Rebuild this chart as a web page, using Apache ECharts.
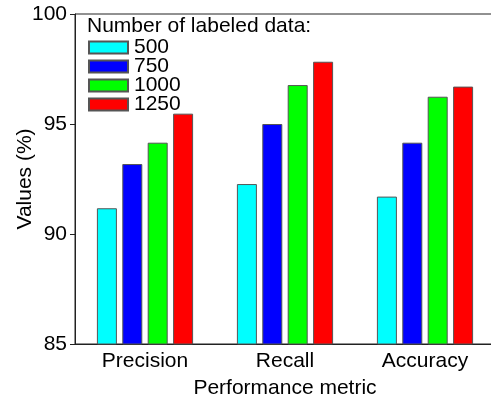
<!DOCTYPE html>
<html><head><meta charset="utf-8">
<script src="https://cdn.jsdelivr.net/npm/echarts@6/dist/echarts.min.js"></script>
<style>html,body{margin:0;padding:0;background:#fff}#c{width:491px;height:403px}</style>
</head><body><div id="c"></div>
<script>
const categories = ['Precision', 'Recall', 'Accuracy'];
const seriesNames = ['500', '750', '1000', '1250'];
const s500 = [91.17, 92.27, 91.70];
const s750 = [93.18, 95.00, 94.15];
const s1000 = [94.15, 96.77, 96.24];
const s1250 = [95.47, 97.83, 96.70];
const colors = ['#00FFFF', '#0000FF', '#00FF00', '#FF0000'];
const yTicks = [85, 90, 95, 100];

const allData = [s500, s750, s1000, s1250];
const font = 'Liberation Sans, Arial, sans-serif';
const chart = echarts.init(document.getElementById('c'));
chart.setOption({
  animation: false,
  grid: { left: 75, width: 420, top: 14, height: 330, show: true, borderColor: '#222', borderWidth: 1, containLabel: false, outerBoundsMode: 'none' },
  title: { text: 'Number of labeled data:', left: 87, top: 16, padding: 0, textStyle: { fontFamily: font, fontSize: 21, fontWeight: 'normal', color: '#000' } },
  legend: {
    orient: 'vertical', left: 88, top: 37, itemWidth: 39, itemHeight: 12, itemGap: -2, padding: 0,
    icon: 'rect',
    textStyle: { fontFamily: font, fontSize: 21, color: '#000', padding: [0, 0, 0, 1] },
    data: seriesNames
  },
  xAxis: {
    type: 'category', data: categories,
    name: 'Performance metric', nameLocation: 'middle', nameGap: 34, nameMoveOverlap: false,
    nameTextStyle: { fontFamily: font, fontSize: 21, color: '#000' },
    axisLine: { lineStyle: { color: '#222', width: 1 } },
    axisTick: { show: false },
    axisLabel: { fontFamily: font, fontSize: 21, color: '#000', margin: 7 }
  },
  yAxis: {
    type: 'value', min: yTicks[0], max: yTicks[yTicks.length - 1], interval: 5,
    name: 'Values (%)', nameLocation: 'middle', nameGap: 39, nameMoveOverlap: false,
    nameTextStyle: { fontFamily: font, fontSize: 21, color: '#000' },
    splitLine: { show: false },
    axisLine: { show: true, lineStyle: { color: '#222', width: 1 } },
    axisTick: { show: true, length: 5, lineStyle: { color: '#222' } },
    axisLabel: { fontFamily: font, fontSize: 21, color: '#000', margin: 8 }
  },
  series: allData.map((d, i) => ({
    name: seriesNames[i], type: 'bar', data: d,
    barWidth: 20, barGap: '27%',
    itemStyle: { color: colors[i], borderColor: '#555', borderWidth: 1 }
  }))
});
</script></body></html>
